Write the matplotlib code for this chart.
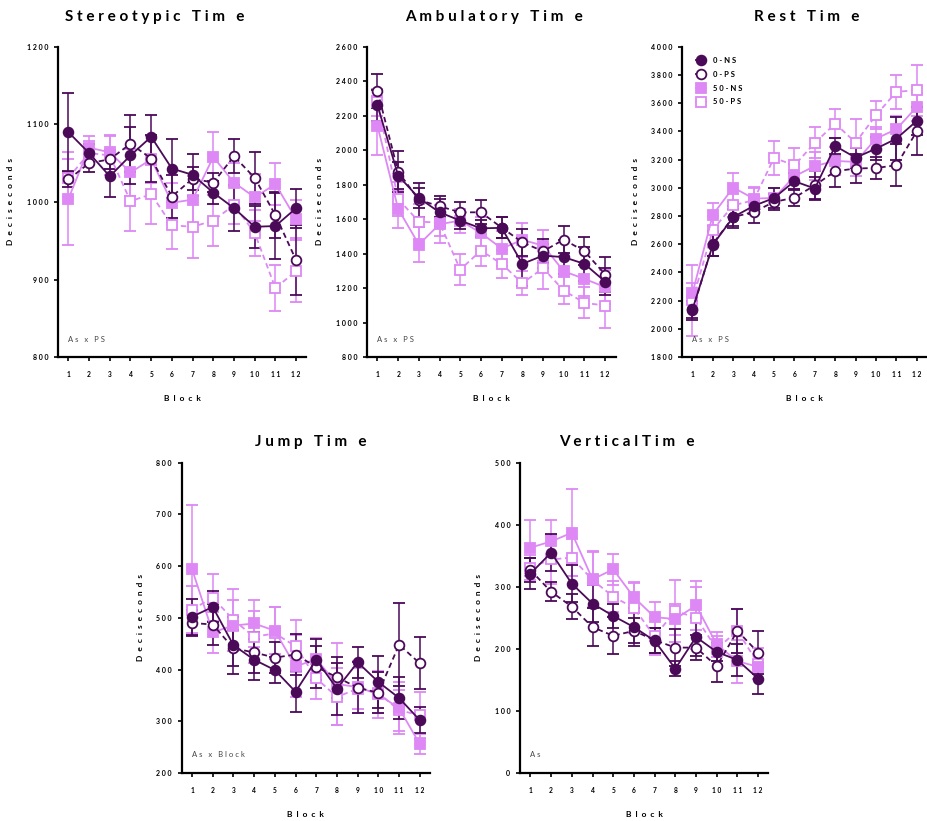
import numpy as np
import matplotlib.pyplot as plt
from matplotlib.lines import Line2D

plt.rcParams["font.family"] = ["Lato", "DejaVu Sans"]

# Data: mean and SEM (deciseconds) per block
blocks = np.arange(1, 13)
groups = ["0-NS", "0-PS", "50-NS", "50-PS"]

stereo_mean = {
    "0-NS": [1090, 1063, 1033, 1060, 1084, 1043, 1035, 1012, 992, 968, 969, 992],
    "0-PS": [1029, 1050, 1055, 1075, 1056, 1007, 1030, 1025, 1059, 1031, 983, 925],
    "50-NS": [1004, 1070, 1064, 1038, 1055, 999, 1003, 1058, 1025, 1006, 1023, 978],
    "50-PS": [1031, 1063, 1060, 1001, 1010, 970, 968, 976, 996, 960, 889, 911],
}
stereo_sem = {
    "0-NS": [50, 12, 27, 37, 28, 38, 27, 15, 30, 27, 43, 25],
    "0-PS": [10, 12, 12, 37, 30, 28, 15, 12, 22, 33, 30, 45],
    "50-NS": [60, 15, 22, 30, 30, 25, 30, 32, 25, 30, 27, 25],
    "50-PS": [25, 15, 25, 38, 38, 30, 40, 33, 25, 30, 30, 40],
}

ambul_mean = {
    "0-NS": [2262, 1853, 1723, 1640, 1592, 1547, 1550, 1341, 1389, 1380, 1341, 1238],
    "0-PS": [2345, 1876, 1712, 1675, 1640, 1640, 1551, 1466, 1414, 1482, 1414, 1279],
    "50-NS": [2142, 1660, 1453, 1571, 1592, 1520, 1430, 1480, 1447, 1298, 1254, 1206],
    "50-PS": [2277, 1717, 1586, 1580, 1308, 1418, 1341, 1229, 1316, 1186, 1115, 1099],
}
ambul_sem = {
    "0-NS": [90, 80, 60, 80, 50, 50, 60, 130, 70, 100, 100, 80],
    "0-PS": [100, 120, 100, 60, 60, 70, 60, 80, 70, 80, 80, 100],
    "50-NS": [170, 110, 100, 110, 70, 90, 100, 100, 90, 90, 100, 100],
    "50-PS": [80, 100, 100, 80, 90, 90, 80, 70, 120, 80, 90, 130],
}

rest_mean = {
    "0-NS": [2138, 2597, 2793, 2872, 2928, 3047, 2995, 3297, 3214, 3278, 3349, 3475],
    "0-PS": [2131, 2604, 2793, 2829, 2900, 2931, 3018, 3118, 3137, 3141, 3160, 3401],
    "50-NS": [2254, 2810, 3002, 2924, 2928, 3082, 3155, 3191, 3184, 3349, 3416, 3574],
    "50-PS": [2202, 2704, 2876, 2912, 3212, 3160, 3319, 3456, 3321, 3515, 3681, 3692],
}
rest_sem = {
    "0-NS": [60, 80, 80, 60, 70, 60, 80, 60, 70, 80, 150, 100],
    "0-PS": [70, 90, 60, 80, 60, 60, 100, 110, 100, 80, 150, 170],
    "50-NS": [70, 80, 100, 80, 70, 90, 100, 100, 100, 80, 90, 100],
    "50-PS": [250, 100, 80, 90, 120, 120, 110, 100, 170, 100, 120, 180],
}

jump_mean = {
    "0-NS": [502, 521, 447, 419, 399, 357, 419, 363, 414, 376, 345, 302],
    "0-PS": [490, 487, 441, 433, 423, 429, 405, 385, 365, 355, 448, 412],
    "50-NS": [594, 472, 485, 489, 475, 406, 420, 372, 366, 352, 325, 256],
    "50-PS": [516, 539, 496, 463, 470, 445, 383, 347, 363, 355, 321, 312],
}
jump_sem = {
    "0-NS": [35, 30, 55, 40, 25, 40, 40, 50, 30, 50, 40, 25],
    "0-PS": [25, 40, 35, 40, 30, 40, 40, 40, 50, 40, 80, 50],
    "50-NS": [125, 40, 50, 45, 45, 60, 40, 80, 50, 45, 50, 20],
    "50-PS": [45, 45, 60, 50, 50, 50, 40, 55, 40, 40, 40, 45],
}

vert_mean = {
    "0-NS": [321, 355, 305, 273, 253, 235, 213, 168, 219, 195, 182, 152],
    "0-PS": [327, 292, 268, 235, 221, 229, 214, 202, 202, 172, 229, 194],
    "50-NS": [363, 373, 387, 312, 328, 283, 251, 248, 270, 207, 180, 171],
    "50-PS": [331, 344, 347, 311, 284, 266, 220, 261, 250, 200, 229, 176],
}
vert_sem = {
    "0-NS": [25, 30, 30, 30, 20, 30, 20, 12, 30, 15, 25, 25],
    "0-PS": [20, 15, 20, 30, 30, 20, 20, 30, 20, 25, 35, 35],
    "50-NS": [45, 35, 70, 45, 25, 25, 25, 25, 40, 20, 35, 20],
    "50-PS": [20, 40, 30, 45, 25, 40, 30, 50, 50, 20, 35, 25],
}

DARK = "#4b0a58"
LIGHT = "#dd88f5"
style = {
    "0-NS": dict(color=DARK, marker="o", mfc=DARK, ls="-"),
    "0-PS": dict(color=DARK, marker="o", mfc="white", ls="--"),
    "50-NS": dict(color=LIGHT, marker="s", mfc=LIGHT, ls="-"),
    "50-PS": dict(color=LIGHT, marker="s", mfc="white", ls="--"),
}
draw_order = ["50-PS", "50-NS", "0-PS", "0-NS"]


def spaced(s, gap=" "):
    return gap.join(s)


def panel(ax, title, means, sems, yticks, note, title_x=0.5, title_y=1.085):
    for g in draw_order:
        st = style[g]
        ax.errorbar(blocks, means[g], yerr=sems[g], color=st["color"], ls=st["ls"],
                    lw=1.3, marker=st["marker"], ms=7, mfc=st["mfc"], mec=st["color"],
                    mew=1.3, capsize=4.5, elinewidth=1.1, capthick=1.1,
                    dashes=(3, 2) if st["ls"] == "--" else (None, None))
    ax.set_xlim(0.5, 12.5)
    ax.set_ylim(yticks[0], yticks[-1])
    ax.set_xticks(blocks)
    ax.set_xticklabels([spaced(str(b)) for b in blocks], fontsize=4.8, fontweight="bold")
    ax.set_yticks(yticks)
    ax.set_yticklabels([spaced(str(t)) for t in yticks], fontsize=5, fontweight="bold")
    ax.spines["top"].set_visible(False)
    ax.spines["right"].set_visible(False)
    ax.spines["left"].set_linewidth(1.6)
    ax.spines["bottom"].set_linewidth(1.6)
    ax.tick_params(direction="out", length=3, width=1.2, pad=4)
    ax.tick_params(axis="x", pad=7)
    ax.text(title_x, title_y, spaced(title), transform=ax.transAxes, ha="center",
            va="center", fontsize=11, fontweight="bold")
    ax.set_xlabel(spaced("Block", "  "), fontsize=6, fontweight="bold", labelpad=12)
    ax.set_ylabel(spaced("Deciseconds", "  "), fontsize=6, fontweight="bold", labelpad=9)
    ax.text(0.04, 0.05, spaced(note), transform=ax.transAxes, fontsize=5.5, color="#444444")


fig = plt.figure(figsize=(9.27, 8.21), dpi=100)
ax1 = fig.add_axes([0.0626, 0.565, 0.268, 0.378])
ax2 = fig.add_axes([0.396, 0.565, 0.268, 0.378])
ax3 = fig.add_axes([0.736, 0.565, 0.264, 0.378])
ax4 = fig.add_axes([0.196, 0.0585, 0.268, 0.378])
ax5 = fig.add_axes([0.561, 0.0585, 0.268, 0.378])

panel(ax1, "Stereotypic Tim e", stereo_mean, stereo_sem, list(range(800, 1201, 100)), "As x PS", 0.39, 1.095)
panel(ax2, "Ambulatory Tim e", ambul_mean, ambul_sem, list(range(800, 2601, 200)), "As x PS", 0.51, 1.095)
panel(ax3, "Rest Tim e", rest_mean, rest_sem, list(range(1800, 4001, 200)), "As x PS", 0.51, 1.095)
panel(ax4, "Jump Tim e", jump_mean, jump_sem, list(range(200, 801, 100)), "As x Block", 0.52, 1.065)
panel(ax5, "VerticalTim e", vert_mean, vert_sem, list(range(0, 501, 100)), "As", 0.43, 1.065)

handles = []
for g in groups:
    st = style[g]
    handles.append(Line2D([0], [0], color=st["color"], marker=st["marker"], ms=7,
                          mfc=st["mfc"], mec=st["color"], mew=1.3, lw=1.3))
leg = ax3.legend(handles, [spaced(g) for g in groups], loc="upper left",
                 bbox_to_anchor=(0.03, 0.99), frameon=False, handlelength=1.2,
                 prop={"size": 5.5, "weight": "bold"}, labelspacing=0.9, handletextpad=1.0)

fig.savefig("out.png", dpi=100)
